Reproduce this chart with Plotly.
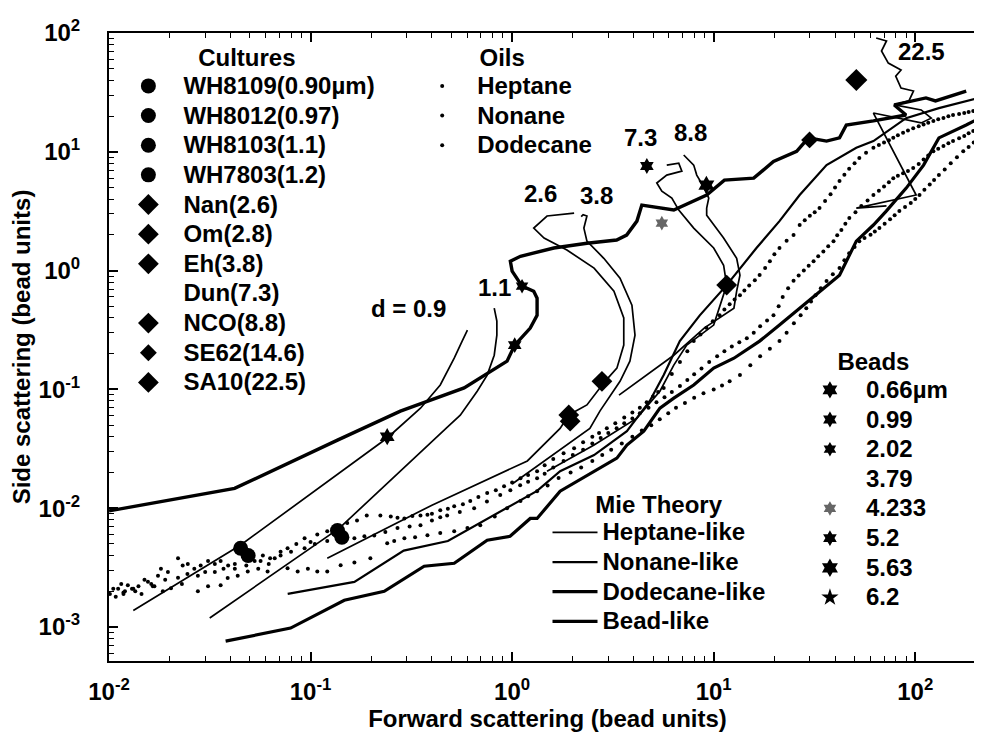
import math
import plotly.graph_objects as go

FONT = "Liberation Sans, Arial, Helvetica, sans-serif"

# ---------------- data: (forward scattering, side scattering) in bead units ----------------
culture_names = ["WH8109(0.90µm)", "WH8012(0.97)", "WH8103(1.1)", "WH7803(1.2)", "Nan(2.6)",
                 "Om(2.8)", "Eh(3.8)", "Dun(7.3)", "NCO(8.8)", "SE62(14.6)", "SA10(22.5)"]
culture_fsc = [0.045, 0.049, 0.136, 0.143, 1.91, 1.94, 2.79, None, 11.6, 29.9, 51.0]
culture_ssc = [0.0046, 0.0040, 0.0065, 0.0057, 0.061, 0.054, 0.117, None, 0.755, 12.6, 40.2]

bead_names = ["0.66µm", "0.99", "2.02", "3.79", "4.233", "5.2", "5.63", "6.2"]
bead_fsc = [0.24, 1.03, 1.12, None, 5.53, 4.66, 9.2, None]
bead_ssc = [0.040, 0.236, 0.74, None, 2.51, 7.6, 5.25, None]

oil_names = ["Heptane", "Nonane", "Dodecane"]
mie_names = ["Heptane-like", "Nonane-like", "Dodecane-like", "Bead-like"]

heptane_fsc = [0.0101, 0.0111, 0.0118, 0.0124, 0.0132, 0.014, 0.0156, 0.0168, 0.0181, 0.0196, 0.022, 0.0232,
               0.0246, 0.0265, 0.0285, 0.031, 0.0335, 0.0358, 0.039, 0.0421, 0.047, 0.0528, 0.058, 0.062, 0.0664,
               0.071, 0.0769, 0.085, 0.0934, 0.1, 0.108, 0.121, 0.135, 0.152, 0.17, 0.19, 0.222, 0.25, 0.27,
               0.292, 0.32, 0.351, 0.38, 0.40, 0.44, 0.48, 0.516, 0.57, 0.62, 0.68, 0.752, 0.83, 0.912, 1.0,
               1.10, 1.2, 1.33, 1.45, 1.6, 1.8, 2.03, 2.25, 2.5, 2.7, 2.95, 3.25, 3.6, 3.95, 4.3, 4.65, 5.0,
               5.3, 5.65, 6.2, 6.8, 7.4, 7.96, 8.6, 9.2, 9.9, 10.7, 11.3, 12, 12.7, 13.5, 14.2, 15, 16, 16.9,
               18, 19, 20, 21.2, 23, 24.9, 26.7, 28.3, 30, 31.7, 33.5, 35.7, 38, 40, 42.1, 44.5, 47, 50, 52.8,
               57, 62, 66, 70, 74, 77.8, 82, 87, 92, 97.7, 104, 110, 116, 123, 130, 138, 146, 154, 165, 175,
               184, 194, 204, 215]
heptane_ssc = [0.0019, 0.0021, 0.0019, 0.00225, 0.0021, 0.0022, 0.0024, 0.0022, 0.0031, 0.0029, 0.0038, 0.0033,
               0.0034, 0.0031, 0.0033, 0.0036, 0.0034, 0.0036, 0.0033, 0.0034, 0.0037, 0.0036, 0.0040, 0.0034,
               0.0038, 0.0043, 0.0046, 0.0050, 0.0056, 0.0052, 0.0060, 0.0064, 0.0070, 0.0075, 0.0079, 0.0087,
               0.0087, 0.0085, 0.0083, 0.0082, 0.0086, 0.0087, 0.0088, 0.0090, 0.0096, 0.0099, 0.0104, 0.0108,
               0.0115, 0.0124, 0.0134, 0.0142, 0.0153, 0.0165, 0.0179, 0.019, 0.0205, 0.023, 0.026, 0.029,
               0.032, 0.036, 0.040, 0.043, 0.047, 0.052, 0.058, 0.064, 0.070, 0.078, 0.087, 0.095, 0.103,
               0.135, 0.17, 0.21, 0.255, 0.29, 0.33, 0.375, 0.42, 0.47, 0.52, 0.57, 0.62, 0.68, 0.75, 0.83,
               0.92, 1.05, 1.2, 1.37, 1.55, 1.78, 1.99, 2.42, 2.65, 2.9, 3.1, 3.36, 3.85, 4.4, 5.0, 5.67, 6.4,
               7.2, 8.0, 8.86, 9.8, 10.8, 11.4, 12, 12.5, 13.1, 13.8, 14.5, 15.1, 15.8, 16.4, 17, 17.6, 18.2,
               18.8, 19.3, 19.9, 20.4, 20.8, 21.2, 21.6, 22, 23, 24]

nonane_fsc = [0.0105, 0.0115, 0.012, 0.0135, 0.015, 0.0162, 0.0175, 0.019, 0.022, 0.0245, 0.0276, 0.030,
              0.0335, 0.037, 0.0421, 0.048, 0.0565, 0.063, 0.071, 0.08, 0.0934, 0.105, 0.121, 0.14, 0.165,
              0.185, 0.207, 0.235, 0.27, 0.31, 0.351, 0.40, 0.44, 0.476, 0.55, 0.648, 0.75, 0.873, 0.98,
              1.096, 1.2, 1.33, 1.45, 1.6, 1.8, 2.0, 2.25, 2.5, 2.75, 3.0, 3.3, 3.6, 3.95, 4.3, 4.75, 5.2,
              5.7, 6.2, 6.8, 7.4, 8.0, 8.7, 9.5, 10.4, 11.3, 12.3, 13.4, 14.6, 15.8, 17, 18.4, 19.8, 21, 22,
              23.4, 24.9, 26.4, 28, 29.6, 31.3, 33, 35, 37, 39.3, 41, 43, 45, 47.1, 50.5, 54, 58, 62, 66, 70,
              74, 77.8, 82, 87, 92, 97.7, 104, 110, 116, 123, 130, 138, 146, 154, 165, 175, 184, 194, 204, 215]
nonane_ssc = [0.0021, 0.0023, 0.0020, 0.0020, 0.0025, 0.0023, 0.0027, 0.0025, 0.0026, 0.0028, 0.0027, 0.0029,
              0.0029, 0.0031, 0.0031, 0.0033, 0.0036, 0.0038, 0.0040, 0.0043, 0.0046, 0.0050, 0.0053, 0.0055,
              0.0056, 0.0058, 0.0059, 0.0063, 0.0068, 0.0070, 0.0072, 0.0079, 0.0084, 0.0087, 0.0093, 0.0100,
              0.0114, 0.0129, 0.0142, 0.0156, 0.0167, 0.0179, 0.0195, 0.022, 0.025, 0.028, 0.031, 0.035,
              0.039, 0.043, 0.047, 0.052, 0.057, 0.063, 0.070, 0.078, 0.086, 0.095, 0.107, 0.12, 0.134, 0.15,
              0.17, 0.19, 0.21, 0.23, 0.25, 0.27, 0.30, 0.34, 0.38, 0.42, 0.5, 0.6, 0.71, 0.82, 0.91, 1.0,
              1.1, 1.2, 1.32, 1.45, 1.6, 1.77, 1.98, 2.2, 2.48, 2.77, 3.1, 3.5, 3.9, 4.33, 4.7, 5.1, 5.55,
              6.0, 6.3, 6.6, 6.9, 7.3, 7.9, 8.6, 9.3, 10.1, 10.6, 11.2, 11.8, 12.3, 13.0, 13.6, 14.3, 15,
              16.2, 17.5]

dodecane_fsc = [0.0108, 0.0118, 0.013, 0.0145, 0.0165, 0.0185, 0.0203, 0.023, 0.0276, 0.031, 0.0358, 0.0388,
                0.0435, 0.0488, 0.055, 0.0612, 0.0769, 0.0863, 0.097, 0.108, 0.121, 0.141, 0.165, 0.198, 0.24,
                0.26, 0.292, 0.33, 0.38, 0.44, 0.516, 0.6, 0.695, 0.82, 0.944, 1.1, 1.2, 1.33, 1.5, 1.7, 1.95,
                2.2, 2.5, 2.8, 3.1, 3.5, 3.95, 4.4, 4.9, 5.4, 5.95, 6.5, 7.2, 8.0, 8.9, 10, 11, 12, 13.5, 15.2,
                17, 19, 21.2, 23, 25, 27, 28.8, 30.4, 32, 34, 36.3, 39, 42.1, 44.5, 47, 50, 52.8, 56, 60, 63,
                66.4, 70.5, 75, 79, 83.4, 89, 95, 100, 105, 111, 118, 124, 131, 140, 150, 161, 173, 184, 195,
                207, 220]
dodecane_ssc = [0.0018, 0.00195, 0.0021, 0.0019, 0.0022, 0.0020, 0.00212, 0.0023, 0.0020, 0.0022, 0.00225,
                0.00258, 0.0027, 0.00294, 0.0031, 0.00294, 0.00313, 0.00294, 0.0031, 0.00294, 0.00294, 0.00331,
                0.0035, 0.00379, 0.00507, 0.0053, 0.00558, 0.0057, 0.00593, 0.0062, 0.0064, 0.0068, 0.0072,
                0.0085, 0.0100, 0.0115, 0.0126, 0.0139, 0.0155, 0.018, 0.020, 0.022, 0.025, 0.028, 0.031,
                0.035, 0.040, 0.045, 0.050, 0.056, 0.063, 0.070, 0.077, 0.085, 0.093, 0.10, 0.108, 0.117,
                0.132, 0.16, 0.19, 0.22, 0.255, 0.3, 0.36, 0.42, 0.483, 0.55, 0.62, 0.71, 0.817, 0.93, 1.05,
                1.22, 1.4, 1.58, 1.77, 1.88, 2.0, 2.13, 2.28, 2.48, 2.7, 2.93, 3.17, 3.43, 3.7, 4.0, 4.33, 4.8,
                5.3, 5.8, 6.37, 7.1, 8.0, 9.0, 10.1, 11.0, 12, 12.9, 13.8]

# Mie theory curves
d09_fsc = [0.0132, 0.045, 0.24, 0.351, 0.44, 0.516, 0.565, 0.6]
d09_ssc = [0.00138, 0.0049, 0.039, 0.0695, 0.109, 0.183, 0.255, 0.316]

d11_fsc = [0.0316, 0.139, 0.47, 0.553, 0.671, 0.752, 0.815, 0.84, 0.84, 0.815]
d11_ssc = [0.00119, 0.0068, 0.047, 0.0607, 0.0966, 0.132, 0.194, 0.286, 0.376, 0.483]

d26_fsc = [0.121, 0.40, 1.19, 1.73, 1.91, 2.35, 2.89, 3.31, 3.58, 3.58, 3.2, 2.55, 1.87, 1.44, 1.28, 1.49, 2.03]
d26_ssc = [0.0038, 0.0106, 0.025, 0.047, 0.061, 0.074, 0.117, 0.151, 0.236, 0.40, 0.67, 1.05, 1.49, 1.88,
           2.28, 2.88, 3.05]

d38_fsc = [1.0, 1.49, 2.43, 2.73, 3.43, 3.84, 4.07, 3.93, 3.43, 2.85, 2.35, 2.27, 2.35, 2.25, 2.2]
d38_ssc = [0.016, 0.026, 0.047, 0.066, 0.117, 0.173, 0.286, 0.512, 0.865, 1.27, 1.77, 2.28, 2.88, 2.95, 2.85]

d73_fsc = [1.49, 2.55, 4.16, 5.41, 6.34, 7.35, 10.0, 11.6, 11.2, 10.0, 7.96, 6.71, 6.2, 5.53, 5.22, 5.85,
           6.95, 6.71, 5.85]
d73_ssc = [0.0205, 0.034, 0.0573, 0.0966, 0.16, 0.236, 0.348, 0.755, 1.11, 1.55, 2.28, 3.23, 4.08, 4.67,
           5.46, 6.37, 6.88, 8.03, 7.73]

d88_fsc = [3.39, 6.34, 9.0, 12.6, 13.0, 13.5, 13.0, 11.2, 9.23, 9.23, 9.45, 9.0, 8.24, 7.96, 7.1]
d88_ssc = [0.0895, 0.194, 0.33, 0.483, 0.672, 0.916, 1.27, 1.88, 2.93, 3.36, 4.08, 4.95, 6.37, 7.73, 9.4]

d225_fsc = [72, 51, 101, 62, 107, 120, 107, 79, 93, 98, 85, 80, 85, 73.5, 68, 72, 64]
d225_ssc = [3.5, 3.36, 4.33, 21.2, 17.5, 19.2, 22.5, 24.8, 26.8, 32.5, 34.4, 43.4, 48.8, 55.8, 70.5, 85.7, 90.7]

nonane_like_fsc = [0.077, 0.165, 0.29, 0.48, 1.33, 1.73, 2.55, 3.71, 4.82, 5.65, 6.79, 8.53, 11.6, 16.3,
                   21.2, 26.7, 36.3, 51, 62, 90, 131, 200]
nonane_like_ssc = [0.0019, 0.0024, 0.0044, 0.0053, 0.014, 0.0205, 0.028, 0.0445, 0.08, 0.132, 0.255, 0.42,
                   0.755, 1.55, 2.61, 4.33, 7.73, 10.8, 12.3, 19.2, 23.3, 28]

dodecane_like_fsc = [0.0379, 0.0796, 0.147, 0.232, 0.366, 0.516, 0.752, 0.977, 1.23, 1.33, 1.73, 2.55, 3.31,
                     3.71, 4.5, 5.41, 6.34, 7.96, 10.0, 12.6, 16.9, 21.2, 26.7, 33.5, 42.1, 51, 62, 71.8, 90.2,
                     110, 131, 179, 224]
dodecane_like_ssc = [0.00076, 0.00098, 0.00168, 0.0020, 0.00325, 0.00344, 0.00538, 0.0058, 0.0082, 0.0082,
                     0.0139, 0.0205, 0.0264, 0.034, 0.0445, 0.0695, 0.0844, 0.109, 0.151, 0.183, 0.255, 0.348,
                     0.483, 0.672, 0.916, 1.77, 2.42, 3.17, 4.95, 7.73, 13.1, 16.8, 20.4]

bead_like_fsc = [0.01, 0.042, 0.136, 0.279, 0.578, 0.726, 0.944, 1.03, 1.23, 1.33, 1.33, 1.28, 1.12, 1.0, 0.98,
                 1.1, 1.61, 2.35, 3.3, 3.7, 4.16, 4.4, 6.34, 9.23, 11.3, 15.8, 19.8, 25.8, 29.5, 36.3, 42.1,
                 45.5, 62, 90, 78.7, 113, 126, 179]
bead_like_ssc = [0.0095, 0.0147, 0.0374, 0.0656, 0.103, 0.132, 0.173, 0.236, 0.328, 0.42, 0.586, 0.67, 0.74,
                 0.99, 1.2, 1.32, 1.55, 1.7, 1.81, 1.99, 2.61, 3.56, 3.24, 4.33, 5.78, 6.0, 8.3, 10.1, 13.1,
                 12.3, 13.1, 16.8, 18.2, 20.4, 24.8, 28.4, 26.8, 32.4]

curve_labels = ["d = 0.9", "1.1", "2.6", "3.8", "7.3", "8.8", "22.5"]
curve_label_fsc = [0.305, 0.815, 1.39, 2.63, 4.35, 7.7, 107]
curve_label_ssc = [0.48, 0.72, 4.5, 4.32, 13.1, 14.4, 69.3]

x_tick_vals = [0.01, 0.1, 1, 10, 100]
x_tick_text = ["10<sup>-2</sup>", "10<sup>-1</sup>", "10<sup>0</sup>", "10<sup>1</sup>", "10<sup>2</sup>"]
y_tick_vals = [0.001, 0.01, 0.1, 1, 10, 100]
y_tick_text = ["10<sup>-3</sup>", "10<sup>-2</sup>", "10<sup>-1</sup>", "10<sup>0</sup>", "10<sup>1</sup>",
               "10<sup>2</sup>"]

# ---------------- figure ----------------
fig = go.Figure()


def big(txt):
    # legend rows stay tight (legend font 20.5) while the label itself is drawn larger
    return "<span style='font-size:24px'>" + txt + "</span>"


def line(x, y, w, name=None, show=False, legend="legend3"):
    fig.add_trace(go.Scatter(x=x, y=y, mode="lines", line=dict(color="black", width=w),
                             name=big(name) if name else None, showlegend=show, legend=legend,
                             hoverinfo="skip"))


line(d09_fsc, d09_ssc, 1.7, mie_names[0], True)
line(nonane_like_fsc, nonane_like_ssc, 2.2, mie_names[1], True)
line(dodecane_like_fsc, dodecane_like_ssc, 3.2, mie_names[2], True)
line(bead_like_fsc, bead_like_ssc, 3.4, mie_names[3], True)
for cx, cy in [(d11_fsc, d11_ssc), (d26_fsc, d26_ssc), (d38_fsc, d38_ssc), (d73_fsc, d73_ssc),
               (d88_fsc, d88_ssc), (d225_fsc, d225_ssc)]:
    line(cx, cy, 1.7)

for nm, ox, oy in zip(oil_names, [heptane_fsc, nonane_fsc, dodecane_fsc], [heptane_ssc, nonane_ssc, dodecane_ssc]):
    fig.add_trace(go.Scatter(x=ox, y=oy, mode="markers", name=big(nm), legend="legend2",
                             marker=dict(color="black", size=4, symbol="circle")))

bead_symbols = ["hexagram"] * 7 + ["star"]
bead_colors = ["black", "black", "black", "rgba(0,0,0,0)", "#666", "black", "black", "black"]
bead_sizes = [13, 12, 11, 12, 11, 12, 14, 13]
for i, nm in enumerate(bead_names):
    fig.add_trace(go.Scatter(x=[bead_fsc[i]], y=[bead_ssc[i]], mode="markers", name=big(nm), legend="legend4",
                             marker=dict(symbol=bead_symbols[i], size=bead_sizes[i], color=bead_colors[i])))

culture_symbols = ["circle"] * 4 + ["diamond"] * 7
culture_sizes = [15, 15, 15, 15, 16, 16, 16, 16, 16, 13, 17]
culture_colors = ["black"] * 7 + ["rgba(0,0,0,0)"] + ["black"] * 3
for i, nm in enumerate(culture_names):
    fig.add_trace(go.Scatter(x=[culture_fsc[i]], y=[culture_ssc[i]], mode="markers", name=big(nm),
                             legend="legend",
                             marker=dict(symbol=culture_symbols[i], size=culture_sizes[i],
                                         color=culture_colors[i])))

# annotations on log axes take log10 positions
for t, ax, ay in zip(curve_labels, curve_label_fsc, curve_label_ssc):
    fig.add_annotation(x=math.log10(ax), y=math.log10(ay), xref="x", yref="y", text=t, showarrow=False,
                       font=dict(family=FONT, size=24, color="black", weight="bold"))

minor_x = [k * 10.0 ** e for e in range(-2, 3) for k in range(2, 10)]
minor_y = [k * 10.0 ** e for e in range(-4, 2) for k in range(2, 10)]

axis_common = dict(type="log", showgrid=False, zeroline=False, showline=True, linecolor="black",
                   linewidth=2, mirror="allticks", ticks="inside", ticklen=9, tickwidth=1.5,
                   tickcolor="black", tickmode="array",
                   tickfont=dict(family=FONT, size=24, color="black", weight="bold"))

fig.update_xaxes(range=[-2, 2.351], tickvals=x_tick_vals, ticktext=x_tick_text,
                 minor=dict(tickmode="array", tickvals=minor_x, ticks="inside", ticklen=5,
                            tickwidth=1.2, tickcolor="black", showgrid=False),
                 title=dict(text="Forward scattering (bead units)",
                            font=dict(family=FONT, size=24, weight="bold"), standoff=4),
                 ticklabelstandoff=8, **axis_common)
fig.update_yaxes(range=[-3.286, 2], tickvals=y_tick_vals, ticktext=y_tick_text,
                 minor=dict(tickmode="array", tickvals=minor_y, ticks="inside", ticklen=5,
                            tickwidth=1.2, tickcolor="black", showgrid=False),
                 title=dict(text="Side scattering (bead units)",
                            font=dict(family=FONT, size=24, weight="bold"), standoff=2),
                 ticklabelstandoff=22, **axis_common)


def legend_cfg(x, y, title, itemwidth):
    return dict(x=x, y=y, xanchor="left", yanchor="top", bgcolor="rgba(0,0,0,0)", borderwidth=0,
                font=dict(family=FONT, size=20.5, color="black", weight="bold"), itemwidth=itemwidth,
                tracegroupgap=0, itemsizing="trace", itemclick=False, itemdoubleclick=False,
                title=dict(text=title, side="top center",
                           font=dict(family=FONT, size=24, color="black", weight="bold")))


fig.update_layout(
    width=982, height=734,
    margin=dict(l=101, r=2, t=25, b=81),
    paper_bgcolor="white", plot_bgcolor="white",
    font=dict(family=FONT, color="black"),
    legend=legend_cfg(0.005, 0.997, "Cultures", 60),
    legend2=legend_cfg(0.340, 0.997, "Oils", 60),
    legend3=legend_cfg(0.500, 0.286, "Mie Theory", 45),
    legend4=legend_cfg(0.781, 0.513, "Beads", 62),
    showlegend=True,
)

fig.write_html("out.html")
